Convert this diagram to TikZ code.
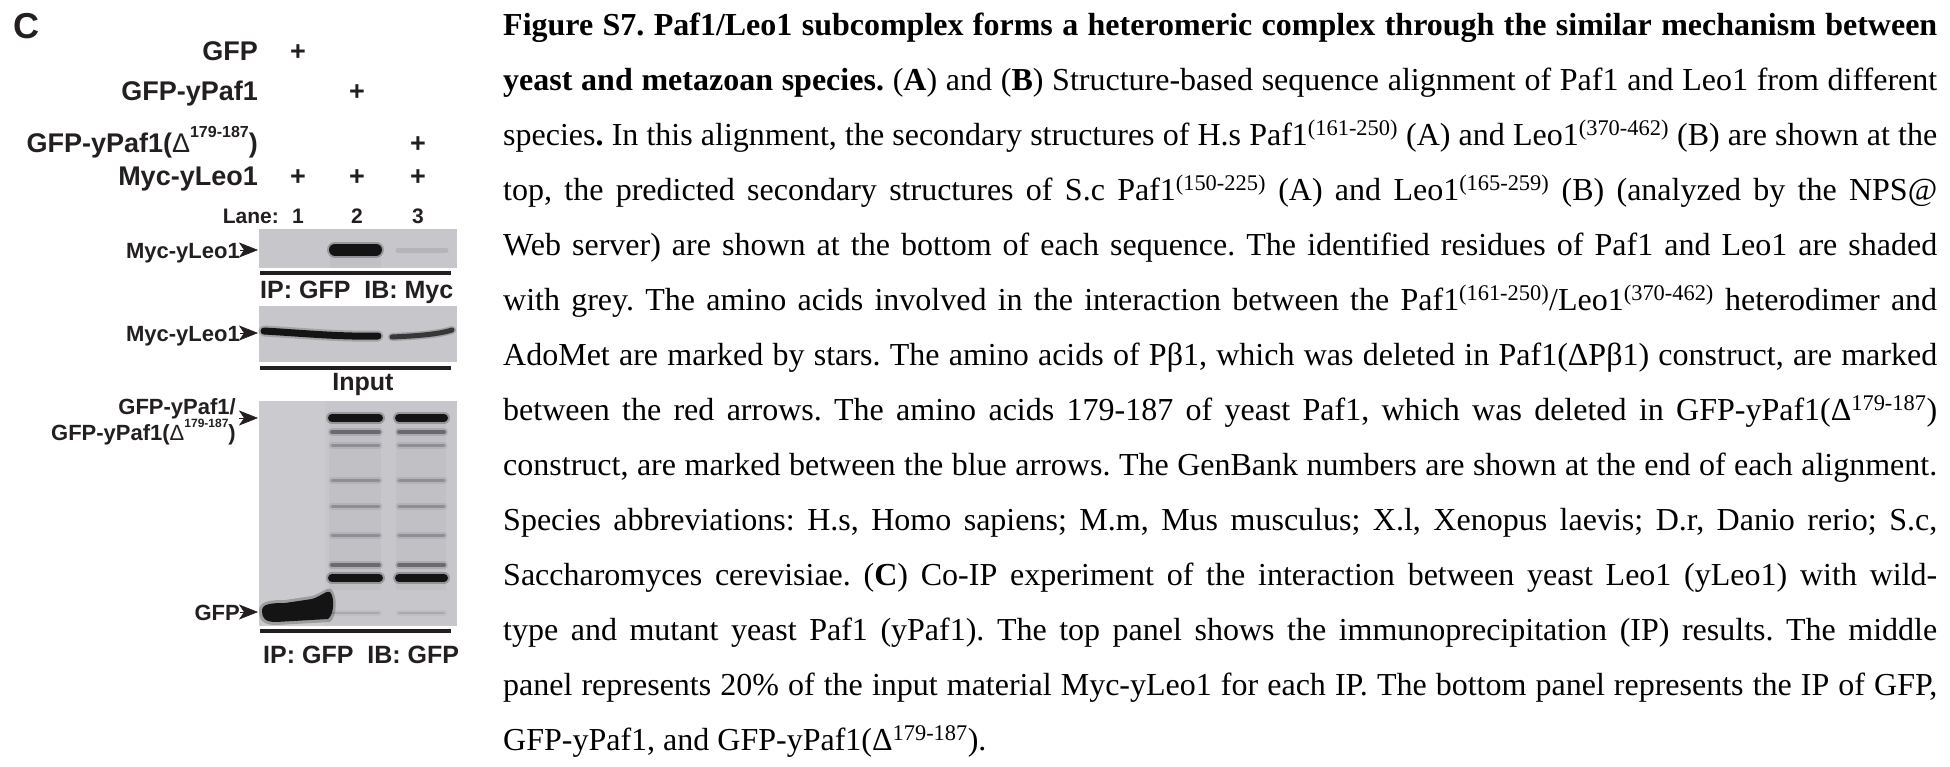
\documentclass[tikz,border=0pt]{standalone}
\usepackage{fontspec}
\setmainfont{Liberation Serif}
\newfontfamily\pf{Liberation Sans}
\usetikzlibrary{arrows.meta}
\definecolor{ink}{HTML}{231F20}
\definecolor{blotgray}{HTML}{C7C7CB}
\definecolor{blotlight}{HTML}{CBCBCF}
\definecolor{smear}{HTML}{C0C0C5}
\definecolor{bandk}{HTML}{141414}
\definecolor{bandm}{HTML}{6A6A70}
\definecolor{bandl}{HTML}{8E8E94}
\definecolor{bandf}{HTML}{A8A8AD}
\newcommand{\dsup}[2]{{\pf\mdseries Δ}\raisebox{#1}{\fontsize{#2}{#2}\selectfont 179-187}}
\begin{document}
\frenchspacing
\begin{tikzpicture}[x=1pt,y=-1pt,
  lbl/.style={font=\pf\bfseries\fontsize{27}{27}\selectfont, text=ink, inner sep=0pt, anchor=base east},
  pls/.style={font=\pf\bfseries\fontsize{27}{27}\selectfont, text=ink, inner sep=0pt, anchor=base},
  lane/.style={font=\pf\bfseries\fontsize{21}{21}\selectfont, text=ink, inner sep=0pt, anchor=base},
  alab/.style={font=\pf\bfseries\fontsize{22}{26}\selectfont, text=ink, inner sep=0pt, anchor=base east, align=right},
  foot/.style={font=\pf\bfseries\fontsize{25}{25}\selectfont, text=ink, inner sep=0pt, anchor=base west},
  capl/.style={font=\fontsize{32}{32}\selectfont, text=black, inner sep=0pt, anchor=base west},
  blot/.style={fill=blotgray, draw=none},
  rulebar/.style={draw=ink, line width=4pt},
  band/.style={line cap=round},
  pointer/.style={-{Stealth[length=19pt,width=15pt,inset=5pt]}, draw=ink, fill=ink, line width=0.6pt}
]
\useasboundingbox (0,0) rectangle (1950,766);

% ---------------- panel label ----------------
\node[font=\pf\bfseries\fontsize{36}{36}\selectfont, text=ink, inner sep=0pt, anchor=base west] (panC) at (13,38) {C};

% ---------------- condition rows ----------------
\node[lbl] (rGFP) at (258,60) {GFP};
\node[lbl] (rPaf) at (258,100) {GFP-yPaf1};
\node[lbl] (rDel) at (258,152) {GFP-yPaf1(\dsup{15pt}{16})};
\node[lbl] (rLeo) at (258,185) {Myc-yLeo1};
\node[pls] (p11) at (298,60) {+};
\node[pls] (p22) at (357,100) {+};
\node[pls] (p33) at (418,152) {+};
\node[pls] (p41) at (298,185) {+};
\node[pls] (p42) at (357,185) {+};
\node[pls] (p43) at (418,185) {+};
\node[lane, anchor=base east] (lanelbl) at (279,223) {Lane:};
\node[lane] (l1) at (298,223) {1};
\node[lane] (l2) at (357,223) {2};
\node[lane] (l3) at (418,223) {3};

% ---------------- blot 1 : IP GFP / IB Myc ----------------
\fill[blot] (259,229) rectangle (457,268);
\fill[smear] (330,250) rectangle (381,268);
\draw[band, line width=16pt, bandk, opacity=0.25] (335,249.5) -- (376,249.5);
\draw[band, line width=12pt, bandk] (335,249.5) -- (376,249.5);
\draw[band, line width=5pt, bandf, opacity=0.6] (398,250) -- (446,250);
\draw[rulebar] (260,273) -- (451,273);
\node[foot] (ipmyc) at (260,298) {IP: GFP\ \ IB: Myc};

% ---------------- blot 2 : input ----------------
\fill[blot] (259,306) rectangle (457,362);
\draw[band, line width=11pt, bandk, opacity=0.2] (264,331) .. controls (300,333) and (340,337) .. (378,336);
\draw[band, line width=7pt, bandk] (264,331) .. controls (300,333) and (340,337) .. (378,336);
\draw[band, line width=8pt, bandk, opacity=0.2] (392,337) .. controls (412,336) and (436,335) .. (452,330);
\draw[band, line width=5pt, bandk!85] (392,337) .. controls (412,336) and (436,335) .. (452,330);
\draw[rulebar] (260,368) -- (451,368);
\node[foot, anchor=base] (inp) at (363,390) {Input};

% ---------------- blot 3 : IP GFP / IB GFP ----------------
\fill[blot] (259,401) rectangle (457,626);
\fill[blotlight] (259,401) rectangle (325,626);
\fill[smear] (329,420) rectangle (381,590);
\fill[smear] (396,420) rectangle (446,590);
\foreach \yy/\ww/\cc in {418/8/bandk, 432/4/bandm, 445/3/bandl, 480/3/bandl, 506/3/bandl, 535/3/bandl, 565/4/bandm, 578/8/bandk, 613/2/bandf}{
  \draw[band, line width=\ww pt+4pt, \cc, opacity=0.25] (332,\yy) -- (379,\yy);
  \draw[band, line width=\ww pt+4pt, \cc, opacity=0.25] (399,\yy) -- (444,\yy);
  \draw[band, line width=\ww pt, \cc] (332,\yy) -- (379,\yy);
  \draw[band, line width=\ww pt, \cc] (399,\yy) -- (444,\yy);
}
\fill[bandk, opacity=0.25] (259,611) .. controls (259,601) and (270,600) .. (285,600)
  -- (312,596) .. controls (322,593) and (326,587) .. (331,589)
  .. controls (338,595) and (337,617) .. (330,622)
  -- (276,625) .. controls (263,625) and (259,620) .. (259,611) -- cycle;
\fill[bandk] (262,611) .. controls (262,604) and (270,603) .. (285,603)
  -- (312,599) .. controls (322,596) and (326,590) .. (330,592)
  .. controls (335,597) and (334,615) .. (328,619)
  -- (276,622) .. controls (265,622) and (262,618) .. (262,611) -- cycle;
\draw[rulebar] (260,631) -- (451,631);
\node[foot] (ipgfp) at (263,663) {IP: GFP\ \ IB: GFP};

% ---------------- arrow labels ----------------
\coordinate (tipA) at (258,250);
\coordinate (tipB) at (258,333);
\coordinate (tipC) at (258,418);
\coordinate (tipD) at (258,612);
\node[alab] (labA) at (240,258) {Myc-yLeo1};
\node[alab] (labB) at (240,341) {Myc-yLeo1};
\node[alab, anchor=east] (labC) at (236,422) {GFP-yPaf1/\\GFP-yPaf1(\dsup{13pt}{12})};
\node[alab] (labD) at (240,620) {GFP};
\draw[pointer] (labA.east |- tipA) -- (tipA);
\draw[pointer] (labB.east |- tipB) -- (tipB);
\draw[pointer] (239,418) -- (tipC);
\draw[pointer] (labD.east |- tipD) -- (tipD);

% ---------------- caption ----------------
\def\capx{503}
\node[capl] (c1) at (\capx,35) {\makebox[1434pt][s]{\textbf{Figure S7. Paf1/Leo1 subcomplex forms a heteromeric complex through the similar mechanism between}}};
\node[capl] (c2) at (\capx,90) {\makebox[1434pt][s]{\textbf{yeast and metazoan species.} (\textbf{A}) and (\textbf{B}) Structure-based sequence alignment of Paf1 and Leo1 from different}};
\node[capl] (c3) at (\capx,145) {\makebox[1434pt][s]{species\textbf{.} In this alignment, the secondary structures of H.s Paf1\textsuperscript{(161-250)} (A) and Leo1\textsuperscript{(370-462)} (B) are shown at the}};
\node[capl] (c4) at (\capx,200) {\makebox[1434pt][s]{top, the predicted secondary structures of S.c Paf1\textsuperscript{(150-225)} (A) and Leo1\textsuperscript{(165-259)} (B) (analyzed by the NPS@}};
\node[capl] (c5) at (\capx,255) {\makebox[1434pt][s]{Web server) are shown at the bottom of each sequence. The identified residues of Paf1 and Leo1 are shaded}};
\node[capl] (c6) at (\capx,310) {\makebox[1434pt][s]{with grey. The amino acids involved in the interaction between the Paf1\textsuperscript{(161-250)}/Leo1\textsuperscript{(370-462)} heterodimer and}};
\node[capl] (c7) at (\capx,365) {\makebox[1434pt][s]{AdoMet are marked by stars. The amino acids of Pβ1, which was deleted in Paf1(ΔPβ1) construct, are marked}};
\node[capl] (c8) at (\capx,420) {\makebox[1434pt][s]{between the red arrows. The amino acids 179-187 of yeast Paf1, which was deleted in GFP-yPaf1(Δ\textsuperscript{179-187})}};
\node[capl] (c9) at (\capx,475) {\makebox[1434pt][s]{construct, are marked between the blue arrows. The GenBank numbers are shown at the end of each alignment.}};
\node[capl] (c10) at (\capx,530) {\makebox[1434pt][s]{Species abbreviations: H.s, Homo sapiens; M.m, Mus musculus; X.l, Xenopus laevis; D.r, Danio rerio; S.c,}};
\node[capl] (c11) at (\capx,585) {\makebox[1434pt][s]{Saccharomyces cerevisiae. (\textbf{C}) Co-IP experiment of the interaction between yeast Leo1 (yLeo1) with wild-}};
\node[capl] (c12) at (\capx,640) {\makebox[1434pt][s]{type and mutant yeast Paf1 (yPaf1). The top panel shows the immunoprecipitation (IP) results. The middle}};
\node[capl] (c13) at (\capx,695) {\makebox[1434pt][s]{panel represents 20\% of the input material Myc-yLeo1 for each IP. The bottom panel represents the IP of GFP,}};
\node[capl] (c14) at (\capx,750) {GFP-yPaf1, and GFP-yPaf1(Δ\textsuperscript{179-187}).};
\end{tikzpicture}
\end{document}
